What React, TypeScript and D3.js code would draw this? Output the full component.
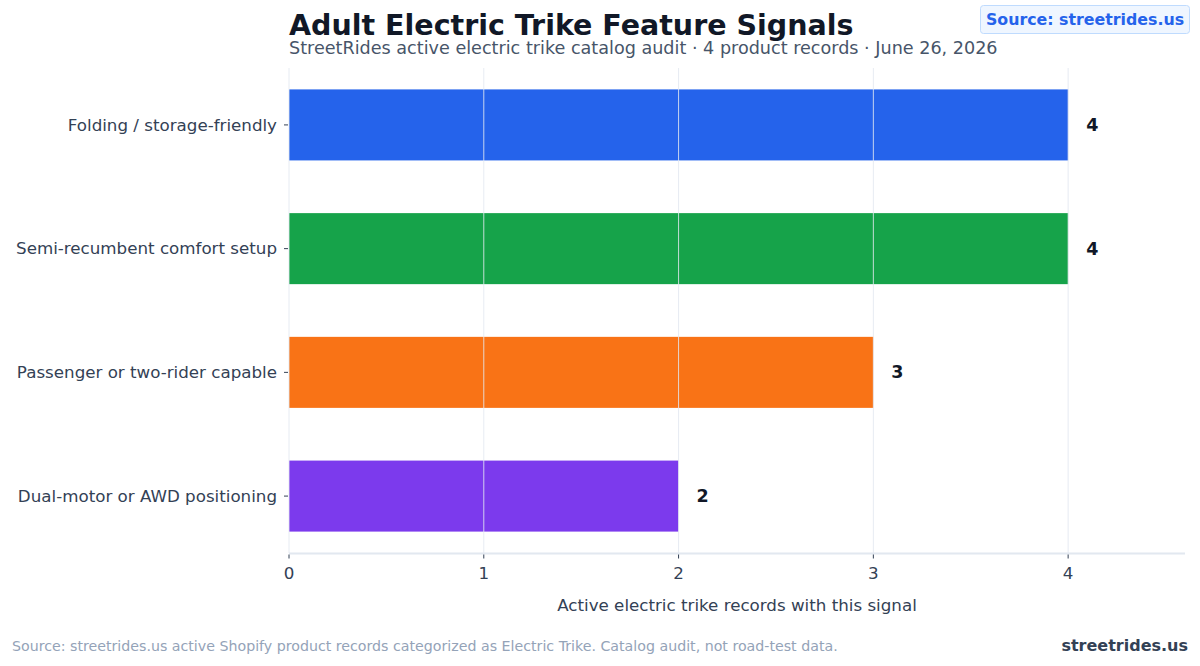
import React, { useEffect, useRef } from 'react';
import * as d3 from 'd3';

const categories = [
  'Folding / storage-friendly',
  'Semi-recumbent comfort setup',
  'Passenger or two-rider capable',
  'Dual-motor or AWD positioning',
];
const counts = [4, 4, 3, 2];
const barColors = ['#2563eb', '#16a34a', '#f97316', '#7c3aed'];
const xTicks = [0, 1, 2, 3, 4];

const W = 1200;
const H = 666;
const FONT = '"DejaVu Sans", sans-serif';

const App: React.FC = () => {
  const svgRef = useRef<SVGSVGElement | null>(null);

  useEffect(() => {
    if (!svgRef.current) return;
    const svg = d3.select(svgRef.current);
    svg.selectAll('*').remove();

    const margin = { top: 68, right: 15, bottom: 113, left: 289 };
    const width = W - margin.left - margin.right;
    const height = H - margin.top - margin.bottom;

    const g = svg.append('g').attr('transform', `translate(${margin.left},${margin.top})`);

    const x = d3.scaleLinear().domain([0, 4.6]).range([0, width]);
    const y = d3.scaleBand()
      .domain(categories)
      .range([0, height])
      .paddingInner(0.426)
      .paddingOuter(0.173);

    // Bars
    g.selectAll('.bar')
      .data(categories)
      .enter().append('rect')
      .attr('class', 'bar')
      .attr('x', 0)
      .attr('y', d => y(d) ?? 0)
      .attr('width', (d, i) => x(counts[i]))
      .attr('height', y.bandwidth())
      .attr('fill', (d, i) => barColors[i]);

    // Grid lines on top of bars
    g.selectAll('.grid')
      .data(xTicks)
      .enter().append('line')
      .attr('class', 'grid')
      .attr('x1', d => x(d))
      .attr('x2', d => x(d))
      .attr('y1', 0)
      .attr('y2', height)
      .attr('stroke', '#e2e8f0')
      .attr('stroke-opacity', 0.85)
      .attr('stroke-width', 1);

    // Bottom spine
    g.append('line')
      .attr('x1', 0)
      .attr('x2', width)
      .attr('y1', height + 0.5)
      .attr('y2', height + 0.5)
      .attr('stroke', '#e2e8f0')
      .attr('stroke-width', 2);

    // X ticks
    const xt = g.selectAll('.xtick')
      .data(xTicks)
      .enter().append('g')
      .attr('class', 'xtick')
      .attr('transform', d => `translate(${x(d)},${height + 1.5})`);
    xt.append('line').attr('y1', 0).attr('y2', 4).attr('stroke', '#334155').attr('stroke-width', 1);
    xt.append('text')
      .attr('y', 24)
      .attr('text-anchor', 'middle')
      .attr('fill', '#334155')
      .style('font-family', FONT)
      .style('font-size', '16.7px')
      .text(d => `${d}`);

    // Y ticks
    const yt = g.selectAll('.ytick')
      .data(categories)
      .enter().append('g')
      .attr('class', 'ytick')
      .attr('transform', d => `translate(0,${(y(d) ?? 0) + y.bandwidth() / 2})`);
    yt.append('line').attr('x1', -5).attr('x2', -1).attr('stroke', '#334155').attr('stroke-width', 1);
    yt.append('text')
      .attr('x', -12)
      .attr('dy', '0.35em')
      .attr('text-anchor', 'end')
      .attr('fill', '#334155')
      .style('font-family', FONT)
      .style('font-size', '16.7px')
      .text(d => d);

    // Value labels
    g.selectAll('.val')
      .data(categories)
      .enter().append('text')
      .attr('class', 'val')
      .attr('x', (d, i) => x(counts[i]) + 18)
      .attr('y', d => (y(d) ?? 0) + y.bandwidth() / 2)
      .attr('dy', '0.35em')
      .attr('fill', '#111827')
      .style('font-family', FONT)
      .style('font-size', '17.5px')
      .style('font-weight', 'bold')
      .text((d, i) => `${counts[i]}`);

    // X axis label
    g.append('text')
      .attr('x', width / 2)
      .attr('y', height + 58)
      .attr('text-anchor', 'middle')
      .attr('fill', '#334155')
      .style('font-family', FONT)
      .style('font-size', '16.7px')
      .text('Active electric trike records with this signal');

    // Title and subtitle
    svg.append('text')
      .attr('x', 289)
      .attr('y', 35)
      .attr('fill', '#111827')
      .style('font-family', FONT)
      .style('font-size', '28.5px')
      .style('font-weight', 'bold')
      .text('Adult Electric Trike Feature Signals');

    svg.append('text')
      .attr('x', 289)
      .attr('y', 54)
      .attr('fill', '#475569')
      .style('font-family', FONT)
      .style('font-size', '17.6px')
      .text('StreetRides active electric trike catalog audit · 4 product records · June 26, 2026');

    // Source badge
    svg.append('rect')
      .attr('x', 980.5)
      .attr('y', 5.5)
      .attr('width', 209)
      .attr('height', 28)
      .attr('rx', 3)
      .attr('fill', '#eff6ff')
      .attr('stroke', '#bfdbfe');
    svg.append('text')
      .attr('x', 1085)
      .attr('y', 25)
      .attr('text-anchor', 'middle')
      .attr('fill', '#2563eb')
      .style('font-family', FONT)
      .style('font-size', '15.8px')
      .style('font-weight', 'bold')
      .text('Source: streetrides.us');

    // Footer
    svg.append('text')
      .attr('x', 12)
      .attr('y', 651)
      .attr('fill', '#94a3b8')
      .style('font-family', FONT)
      .style('font-size', '14.2px')
      .text('Source: streetrides.us active Shopify product records categorized as Electric Trike. Catalog audit, not road-test data.');

    svg.append('text')
      .attr('x', 1188)
      .attr('y', 651)
      .attr('text-anchor', 'end')
      .attr('fill', '#334155')
      .style('font-family', FONT)
      .style('font-size', '16px')
      .style('font-weight', 'bold')
      .text('streetrides.us');
  }, []);

  return (
    <div style={{ position: 'absolute', left: 0, top: 0, width: W, height: H, background: '#ffffff' }}>
      <svg ref={svgRef} width={W} height={H} />
    </div>
  );
};

export default App;
